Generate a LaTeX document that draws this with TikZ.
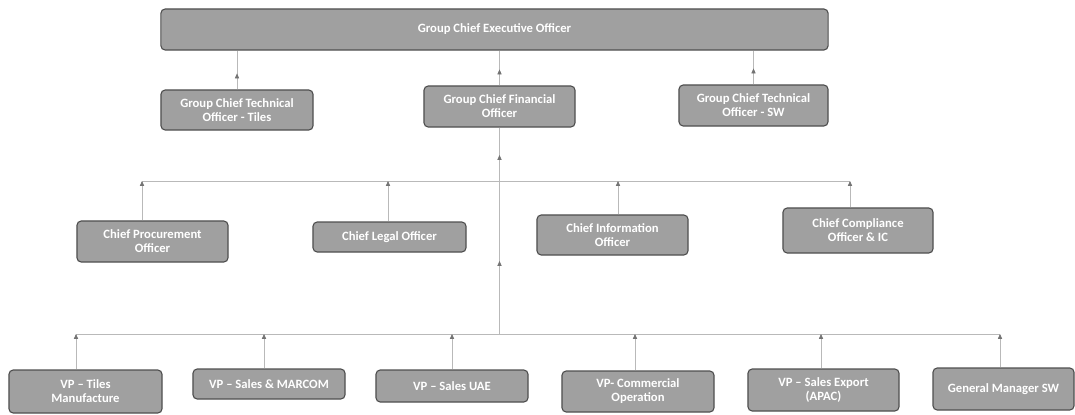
\documentclass[tikz,border=0pt]{standalone}
\usepackage{fontspec}
\setmainfont{Carlito}
\usetikzlibrary{arrows.meta}

\definecolor{boxgray}{RGB}{160,160,160}
\definecolor{edgegray}{RGB}{80,80,80}
\definecolor{linegray}{RGB}{185,185,185}
\definecolor{tipgray}{RGB}{115,115,115}

\begin{document}
\begin{tikzpicture}[x=0.025cm, y=-0.025cm,
	post/.style={draw=edgegray, line width=0.8pt, fill=boxgray, rounded corners=3pt,
		text=white, font=\fontsize{9}{10}\selectfont\bfseries, align=center, inner sep=0pt},
	link/.style={draw=linegray, line width=0.5pt},
	up/.style={link, -{Triangle[length=3.5pt, width=3pt, color=tipgray]}}]

	\useasboundingbox (0,0) rectangle (1075,414);

	% Boxes
	\node[post, minimum width=16.675cm, minimum height=1.025cm] (ceo) at (494.5,29.5) {Group Chief Executive Officer};

	\node[post, minimum width=3.8cm, minimum height=1cm] (ctot) at (237,110) {Group Chief Technical\\Officer - Tiles};
	\node[post, minimum width=3.775cm, minimum height=1.025cm] (cfo) at (499.5,106.5) {Group Chief Financial\\Officer};
	\node[post, minimum width=3.725cm, minimum height=1.025cm] (ctosw) at (753.5,105.5) {Group Chief Technical\\Officer - SW};

	\node[post, minimum width=3.775cm, minimum height=1.025cm] (cpo) at (152.5,241.5) {Chief Procurement\\Officer};
	\node[post, minimum width=3.825cm, minimum height=0.75cm] (clo) at (389.5,237) {Chief Legal Officer};
	\node[post, minimum width=3.775cm, minimum height=1cm] (cio) at (612.5,235) {Chief Information\\Officer};
	\node[post, minimum width=3.75cm, minimum height=1.125cm] (cco) at (858,230.5) {Chief Compliance\\Officer \& IC};

	\node[post, minimum width=3.825cm, minimum height=1.075cm] (vptiles) at (85.5,391.5) {VP -- Tiles\\Manufacture};
	\node[post, minimum width=3.8cm, minimum height=0.75cm] (vpmarcom) at (269,384) {VP -- Sales \& MARCOM};
	\node[post, minimum width=3.8cm, minimum height=0.8cm] (vpuae) at (452,386) {VP -- Sales UAE};
	\node[post, minimum width=3.8cm, minimum height=1.025cm] (vpcomm) at (638,391.5) {VP- Commercial\\Operation};
	\node[post, minimum width=3.775cm, minimum height=1.05cm] (vpexport) at (823.5,390) {VP -- Sales Export\\(APAC)};
	\node[post, minimum width=3.525cm, minimum height=1.05cm] (gmsw) at (1003.5,389) {General Manager SW};

	% Bus lines
	\coordinate (b3w) at (142,181);
	\coordinate (b3e) at (850,181);
	\coordinate (b4w) at (76,334);
	\coordinate (b4e) at (1000,334);
	\draw[link] (b3w) -- (b3e);
	\draw[link] (b4w) -- (b4e);

	% Reports to the CEO
	\foreach \n in {ctot,cfo,ctosw} {
		\draw[link] (\n.north) -- (\n.north |- ceo.south);
		\draw[up] (\n.north) -- ++(0,-16);
	}

	% Trunk below the CFO
	\draw[link] (cfo.south) -- (cfo.south |- b4w);
	\draw[up] (cfo.south |- b3w) -- ++(0,-26);
	\draw[up] (cfo.south |- b4w) -- ++(0,-73);

	% Chiefs
	\foreach \n/\x in {cpo/142, clo/388, cio/618, cco/850}
		\draw[up] (\n.north -| \x,0) -- (\x,181);

	% Vice presidents
	\foreach \n/\x in {vptiles/76, vpmarcom/264, vpuae/452, vpcomm/635, vpexport/821, gmsw/1000}
		\draw[up] (\n.north -| \x,0) -- (\x,334);
\end{tikzpicture}
\end{document}
